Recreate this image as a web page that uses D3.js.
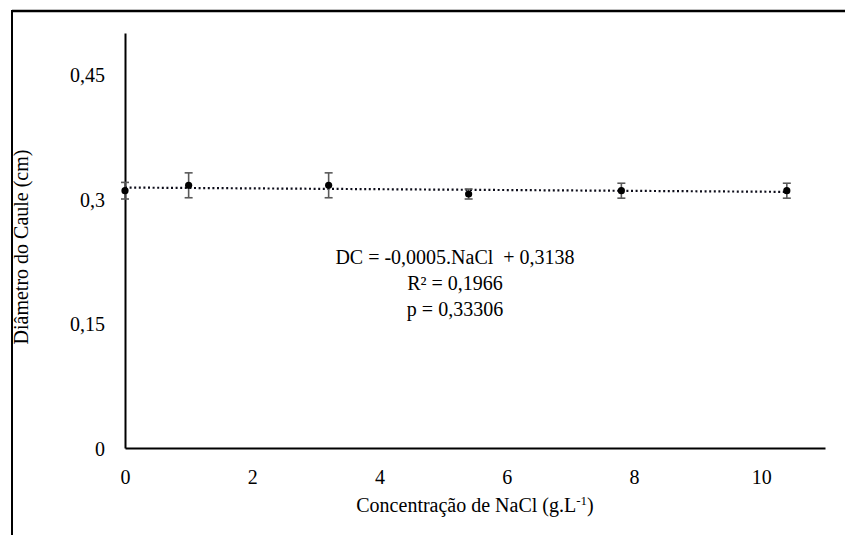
<!DOCTYPE html>
<html>
<head>
<meta charset="utf-8">
<script src="https://cdn.jsdelivr.net/npm/d3@7"></script>
<style>
  body { margin: 0; background: #fff; }
  svg text { font-family: "Liberation Serif", "Times New Roman", Tinos, "DejaVu Serif", serif !important; fill: #000; }
</style>
</head>
<body>
<div id="chart"></div>
<script>
// data
var naclLevels = [0, 1, 3.2, 5.4, 7.8, 10.4];
var stemDiameter = [0.310, 0.3165, 0.3165, 0.306, 0.310, 0.310];
var stdError = [0.010, 0.015, 0.015, 0.006, 0.009, 0.009];
var yTicks = [0, 0.15, 0.3, 0.45];
var xTicks = [0, 2, 4, 6, 8, 10];
var trend = { slope: -0.0005, intercept: 0.3138 };
var eqLines = ["DC = -0,0005.NaCl  + 0,3138", "R² = 0,1966", "p = 0,33306"];

var svgWidth = 845;
var svgHeight = 535;

var margin = { top: 33, right: 20, bottom: 87, left: 125 };
var chartWidth = 825 - margin.left;
var chartHeight = 448 - margin.top;

var svg = d3.select("#chart")
  .append("svg")
  .attr("width", svgWidth)
  .attr("height", svgHeight);

// outer frame (top and left edges only are visible)
svg.append("line")
  .attr("x1", 12).attr("x2", svgWidth)
  .attr("y1", 11).attr("y2", 11)
  .attr("stroke", "#000").attr("stroke-width", 2.5);
svg.append("line")
  .attr("x1", 12).attr("x2", 12)
  .attr("y1", 10).attr("y2", svgHeight)
  .attr("stroke", "#000").attr("stroke-width", 2);

var chartGroup = svg.append("g")
  .attr("transform", `translate(${margin.left}, ${margin.top})`);

var xScale = d3.scaleLinear().domain([0, 11]).range([0, chartWidth]);
var yScale = d3.scaleLinear().domain([0, 0.5]).range([chartHeight, 0]);

var fmt = function(d) { return String(d).replace(".", ","); };

var bottomAxis = d3.axisBottom(xScale).tickValues(xTicks).tickSize(0).tickPadding(22).tickFormat(fmt);
var leftAxis = d3.axisLeft(yScale).tickValues(yTicks).tickSize(0).tickPadding(20).tickFormat(fmt);

var gx = chartGroup.append("g")
  .attr("transform", `translate(0, ${chartHeight})`)
  .call(bottomAxis);
var gy = chartGroup.append("g").call(leftAxis);

[gx, gy].forEach(function(g) {
  g.attr("font-family", null).attr("font-size", null);
  g.select(".domain").attr("stroke", "#000").attr("stroke-width", 2);
  g.selectAll("text")
    .style("font-size", "20px")
    .attr("fill", "#000");
});
gy.selectAll("text").attr("dy", "0.35em");

// trend line
var trendLine = d3.line()
  .x(function(d) { return xScale(d); })
  .y(function(d) { return yScale(trend.slope * d + trend.intercept); });
chartGroup.append("path")
  .datum([naclLevels[0], naclLevels[naclLevels.length - 1]])
  .attr("d", trendLine)
  .attr("fill", "none")
  .attr("stroke", "#0d0d1a")
  .attr("stroke-width", 2.2)
  .attr("stroke-dasharray", "2,2.6");

// error bars
var bars = chartGroup.selectAll(".err")
  .data(naclLevels)
  .enter()
  .append("g")
  .attr("class", "err")
  .attr("stroke", "#595959")
  .attr("stroke-width", 1.6);
bars.append("line")
  .attr("x1", function(d) { return xScale(d); })
  .attr("x2", function(d) { return xScale(d); })
  .attr("y1", function(d, i) { return yScale(stemDiameter[i] - stdError[i]); })
  .attr("y2", function(d, i) { return yScale(stemDiameter[i] + stdError[i]); });
[-1, 1].forEach(function(s) {
  bars.append("line")
    .attr("x1", function(d) { return xScale(d) - 4; })
    .attr("x2", function(d) { return xScale(d) + 4; })
    .attr("y1", function(d, i) { return yScale(stemDiameter[i] + s * stdError[i]); })
    .attr("y2", function(d, i) { return yScale(stemDiameter[i] + s * stdError[i]); });
});

// points
chartGroup.selectAll("circle")
  .data(naclLevels)
  .enter()
  .append("circle")
  .attr("cx", function(d) { return xScale(d); })
  .attr("cy", function(d, i) { return yScale(stemDiameter[i]); })
  .attr("r", 3.6)
  .attr("fill", "#000");

// equation box
svg.append("text")
  .attr("x", 455)
  .attr("y", 264)
  .style("text-anchor", "middle")
  .style("font-size", "20px")
  .attr("xml:space", "preserve")
  .style("white-space", "pre")
  .selectAll("tspan")
  .data(eqLines)
  .enter()
  .append("tspan")
  .attr("x", 455)
  .attr("dy", function(d, i) { return i === 0 ? 0 : 26; })
  .text(function(d) { return d; });

// axis titles
svg.append("text")
  .attr("transform", "translate(28, 247) rotate(-90)")
  .style("text-anchor", "middle")
  .style("font-size", "20px")
  .text("Diâmetro do Caule (cm)");

var xt = svg.append("text")
  .attr("x", 475)
  .attr("y", 512)
  .style("text-anchor", "middle")
  .style("font-size", "20px");
xt.append("tspan").text("Concentração de NaCl (g.L");
xt.append("tspan").attr("dy", -7).style("font-size", "13px").text("-1");
xt.append("tspan").attr("dy", 7).text(")");
</script>
</body>
</html>
